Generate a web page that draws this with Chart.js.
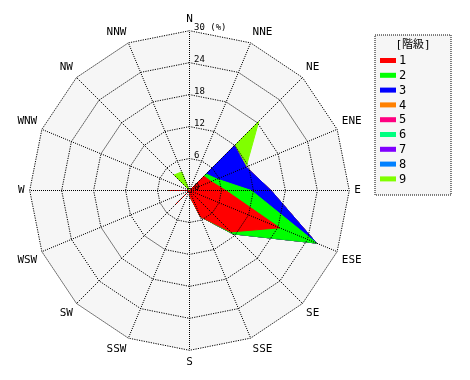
<!DOCTYPE html>
<html>
<head>
<meta charset="utf-8">
<script src="https://cdn.jsdelivr.net/npm/chart.js@4"></script>
<style>
  html, body { margin: 0; padding: 0; background: #fff; }
</style>
</head>
<body>
<canvas id="rose" width="470" height="380"></canvas>
<script>
// wind rose: frequency (%) by direction, stacked by class
const directions = ['N', 'NNE', 'NE', 'ENE', 'E', 'ESE', 'SE', 'SSE', 'S', 'SSW', 'SW', 'WSW', 'W', 'WNW', 'NW', 'NNW'];
const classLabels = ['1', '2', '3', '4', '5', '6', '7', '8', '9'];
const classColors = ['#ff0000', '#00ff00', '#0000ff', '#ff8000', '#ff0080', '#00ff80', '#8000ff', '#0080ff', '#80ff00'];
const radialTicks = [0, 6, 12, 18, 24, 30];

//              N  NNE  NE   ENE  E    ESE   SE    SSE  S    SSW SW   WSW W    WNW NW   NNW
const class1 = [0, 0,   3.8, 4.4, 6.8, 18.3, 11.0, 5.3, 1.0, 0,  3.7, 0,  3.9, 0,  0,   0];
const class2 = [0, 0,   0.6, 1.2, 4.8, 7.5,  0.5,  0,   0,   0,  0,   0,  0,   0,  0,   0];
const class3 = [0, 0,   7.5, 5.9, 3.7, 0,    0,    0,   0,   0,  0,   0,  0,   0,  0,   0];
const class4 = [0, 0,   0,   0,   0,   0,    0,    0,   0,   0,  0,   0,  0,   0,  0,   0];
const class5 = [0, 0,   0,   0,   0,   0,    0,    0,   0,   0,  0,   0,  0,   0,  0,   0];
const class6 = [0, 0,   0,   0,   0,   0,    0,    0,   0,   0,  0,   0,  0,   0,  0,   0];
const class7 = [0, 0,   0,   0,   0,   0,    0,    0,   0,   0,  0,   0,  0,   0,  0,   0];
const class8 = [0, 0,   0,   0,   0,   0,    0,    0,   0,   0,  0,   0,  0,   0,  0,   0];
const class9 = [0, 0,   6.5, 0,   0,   0,    0,    0,   0,   0,  0,   0,  0,   0,  4.1, 3.8];

const classValues = [class1, class2, class3, class4, class5, class6, class7, class8, class9];

// running totals, so each class polygon sits on the ones below it
let running = directions.map(() => 0);
const stacked = classValues.map(vals => {
  running = running.map((s, i) => s + vals[i]);
  return running;
});

const datasets = stacked.map((vals, k) => ({
  label: classLabels[k],
  data: vals,
  backgroundColor: classColors[k],
  borderColor: classColors[k],
  borderWidth: 1,
  fill: 'origin',
  pointRadius: 0,
  tension: 0
}));

const monoFont = '"DejaVu Sans Mono", "Noto Sans CJK JP", monospace';

// pixel-style dots: one on / one off per step along the major axis
function spokeDash(ctx) {
  const deg = (ctx.index * 360 / directions.length) % 90;
  const off = Math.min(deg, 90 - deg) * Math.PI / 180;
  const step = 1 / Math.cos(off);
  return [step, step];
}

const crispPlugin = {
  id: 'crisp',
  beforeDraw(chart) { chart.ctx.save(); chart.ctx.translate(0.5, 0.5); },
  afterDraw(chart) { chart.ctx.restore(); }
};

const backgroundPlugin = {
  id: 'roseBackground',
  beforeDatasetsDraw(chart) {
    const r = chart.scales.r;
    const ctx = chart.ctx;
    ctx.save();
    ctx.beginPath();
    directions.forEach((d, i) => {
      const p = r.getPointPositionForValue(i, r.max);
      if (i === 0) ctx.moveTo(p.x, p.y); else ctx.lineTo(p.x, p.y);
    });
    ctx.closePath();
    ctx.fillStyle = '#f6f6f6';
    ctx.fill();
    ctx.restore();
  }
};

const tickLabelPlugin = {
  id: 'tickLabels',
  afterDraw(chart) {
    const r = chart.scales.r;
    const ctx = chart.ctx;
    ctx.save();
    ctx.font = '9px ' + monoFont;
    ctx.fillStyle = '#000';
    ctx.textAlign = 'left';
    ctx.textBaseline = 'alphabetic';
    r.ticks.forEach(t => {
      const y = r.yCenter - r.getDistanceFromCenterForValue(t.value);
      const txt = t.value === r.max ? t.value + ' (%)' : String(t.value);
      ctx.fillText(txt, r.xCenter + 5, y);
    });
    ctx.restore();
  }
};

const legendPlugin = {
  id: 'boxLegend',
  afterDraw(chart) {
    const ctx = chart.ctx;
    const x = 375, y = 35, w = 76, h = 160;
    ctx.save();
    ctx.fillStyle = '#f6f6f6';
    ctx.fillRect(x, y, w, h);
    ctx.strokeStyle = '#000';
    ctx.lineWidth = 1;
    ctx.setLineDash([1, 1]);
    ctx.strokeRect(x, y, w, h);
    ctx.setLineDash([]);
    ctx.fillStyle = '#000';
    ctx.font = '11px ' + monoFont;
    ctx.textAlign = 'center';
    ctx.textBaseline = 'middle';
    ctx.fillText('[階級]', x + w / 2, y + 10);
    ctx.font = '12px ' + monoFont;
    ctx.textAlign = 'left';
    chart.data.datasets.forEach((ds, i) => {
      const cy = y + 25 + i * 14.8;
      ctx.fillStyle = ds.backgroundColor;
      ctx.fillRect(x + 5, cy - 2, 16, 5);
      ctx.fillStyle = '#000';
      ctx.fillText(ds.label, x + 24, cy + 1);
    });
    ctx.restore();
  }
};

new Chart(document.getElementById('rose'), {
  type: 'radar',
  data: { labels: directions, datasets: datasets },
  options: {
    responsive: false,
    animation: false,
    layout: { padding: { left: 12, right: 102, top: 12, bottom: 12 } },
    plugins: {
      legend: { display: false },
      tooltip: { enabled: false }
    },
    scales: {
      r: {
        min: 0,
        max: 30,
        afterBuildTicks: s => { s.ticks = radialTicks.map(v => ({ value: v })); },
        ticks: { display: false },
        grid: { z: 1, color: '#000', lineWidth: 1 },
        border: { dash: [1.2, 1.2], dashOffset: 0.5 },
        angleLines: { color: '#000', lineWidth: 1, borderDash: spokeDash, borderDashOffset: 0.5 },
        pointLabels: { color: '#000', padding: 5, font: { family: monoFont, size: 11 } }
      }
    }
  },
  plugins: [crispPlugin, backgroundPlugin, tickLabelPlugin, legendPlugin]
});
</script>
</body>
</html>
